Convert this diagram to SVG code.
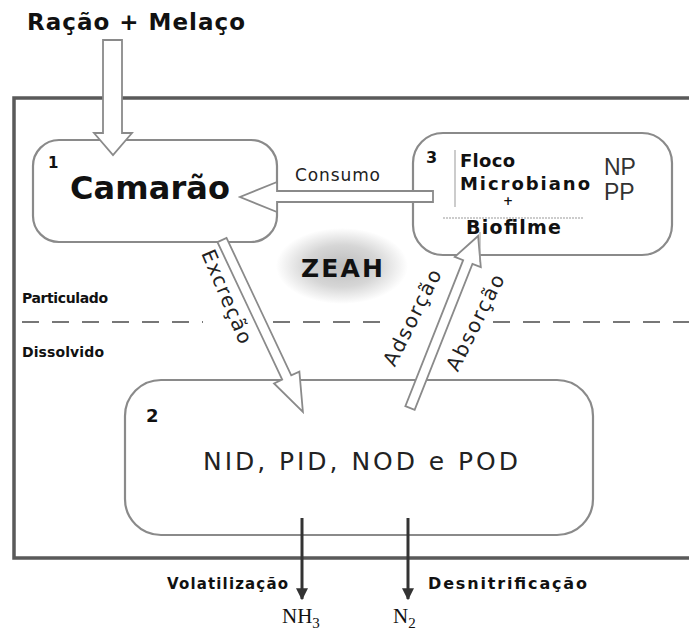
<svg xmlns="http://www.w3.org/2000/svg" width="689" height="635" viewBox="0 0 689 635">
<style>
.b{font-family:"DejaVu Sans","Liberation Sans",sans-serif;font-weight:bold;fill:#111}
.n{font-family:"DejaVu Sans","Liberation Sans",sans-serif;fill:#222}
.box{fill:#fff;stroke:#8a8a8a;stroke-width:2.2}
.hollow{fill:#fff;stroke:#8a8a8a;stroke-width:1.8;stroke-linejoin:miter}
.thin{stroke:#999;stroke-width:1;fill:none}
</style>
<defs>
<radialGradient id="glow" cx="50%" cy="50%" r="50%">
<stop offset="0" stop-color="#bdbdbd"/>
<stop offset="0.55" stop-color="#d6d6d6"/>
<stop offset="1" stop-color="#ffffff"/>
</radialGradient>
<marker id="ah" viewBox="0 0 10 10" refX="9" refY="5" markerWidth="4" markerHeight="4" orient="auto" markerUnits="strokeWidth">
<path d="M0,0 L10,5 L0,10 Z" fill="#333"/>
</marker>
</defs>
<rect width="689" height="635" fill="#fff"/>

<g id="frame">
<path d="M689,98 H14 V558 H689" fill="none" stroke="#5a5a5a" stroke-width="3.5"/>
<g stroke="#777" stroke-width="2" stroke-dasharray="17 13">
<line x1="22" y1="322" x2="203" y2="322"/>
<line x1="273" y1="322" x2="388" y2="322"/>
<line x1="493" y1="322" x2="689" y2="322"/>
</g>
<text class="b" x="22" y="303" font-size="14" textLength="86">Particulado</text>
<text class="b" x="22" y="357" font-size="14" textLength="82">Dissolvido</text>
</g>

<g id="zeah">
<ellipse cx="342" cy="266" rx="66" ry="38" fill="url(#glow)"/>
<text class="b" x="342" y="277" font-size="25" text-anchor="middle" textLength="82">ZEAH</text>
</g>

<g id="node1">
<rect class="box" x="33" y="140" width="244" height="102" rx="26"/>
<text class="b" x="48" y="168" font-size="15">1</text>
<text class="b" x="70" y="199" font-size="32" textLength="160">Camarão</text>
</g>

<g id="node3">
<rect class="box" x="413" y="133" width="259" height="122" rx="30"/>
<line class="thin" x1="455" y1="150" x2="455" y2="207"/>
<line class="thin" x1="443" y1="218" x2="583" y2="218" stroke-dasharray="2 1"/>
<text class="b" x="426" y="163" font-size="16">3</text>
<text class="b" x="460" y="167" font-size="18" textLength="55">Floco</text>
<text class="b" x="460" y="190" font-size="18" textLength="130">Microbiano</text>
<text class="b" x="503" y="205" font-size="12">+</text>
<text class="b" x="466" y="234" font-size="19" textLength="95">Biofilme</text>
<text x="604" y="175" font-family="Liberation Sans,Arial,sans-serif" font-size="23" fill="#333">NP</text>
<text x="604" y="200" font-family="Liberation Sans,Arial,sans-serif" font-size="23" fill="#333">PP</text>
</g>

<g id="node2">
<rect class="box" x="125" y="380" width="468" height="155" rx="36"/>
<text class="b" x="146" y="422" font-size="18">2</text>
<text class="n" x="203" y="470" font-size="25" fill="#111" textLength="315">NID, PID, NOD e POD</text>
</g>

<g id="connectors">
<path class="hollow" d="M103,40 H122 V133 H132 L113,155 L94,133 H103 Z"/>
<path class="hollow" d="M433,191 V202 H277 V212 L240,197 L277,182 V191 Z"/>
<path class="hollow" transform="translate(222,240) rotate(-25.2)" d="M-5,0 L5,0 L5,152 L14,152 L0,190 L-14,152 L-5,152 Z"/>
<path class="hollow" transform="translate(410,408) rotate(21.6)" d="M-5,0 L5,0 L5,-157 L14,-157 L0,-185 L-14,-157 L-5,-157 Z"/>
<line class="thin" x1="480" y1="232" x2="480" y2="262" stroke="#888" stroke-width="1.5"/>
<line x1="302" y1="518" x2="302" y2="599" stroke="#333" stroke-width="3" marker-end="url(#ah)"/>
<line x1="408" y1="518" x2="408" y2="599" stroke="#333" stroke-width="3" marker-end="url(#ah)"/>
<text class="n" x="295" y="181" font-size="17" fill="#333" textLength="85">Consumo</text>
<text class="n" transform="translate(226,297) rotate(67)" x="0" y="6" font-size="20" fill="#111" text-anchor="middle" textLength="100">Excreção</text>
<text class="n" transform="translate(413,318) rotate(-63.4)" x="0" y="6" font-size="20" fill="#111" text-anchor="middle" textLength="105">Adsorção</text>
<text class="n" transform="translate(476,323) rotate(-63.4)" x="0" y="6" font-size="20" fill="#111" text-anchor="middle" textLength="105">Absorção</text>
<text class="b" x="167" y="589" font-size="15" textLength="121">Volatilização</text>
<text class="b" x="428" y="589" font-size="16" textLength="159">Desnitrificação</text>
<text x="282" y="623" font-family="Liberation Serif,Times New Roman,serif" font-size="21" fill="#111">NH<tspan font-size="15" dy="5">3</tspan></text>
<text x="393" y="623" font-family="Liberation Serif,Times New Roman,serif" font-size="21" fill="#111">N<tspan font-size="15" dy="5">2</tspan></text>
</g>

<text class="b" x="27" y="30" font-size="23" textLength="218">Ração + Melaço</text>
</svg>
